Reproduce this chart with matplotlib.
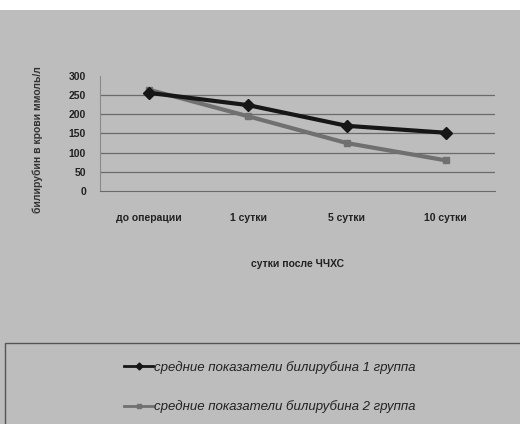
import matplotlib.pyplot as plt
from matplotlib.patches import Rectangle

# данные
categories = ['до операции', '1 сутки', '5 сутки', '10 сутки']
group1 = [256, 224, 170, 152]
group2 = [264, 195, 125, 80]
label1 = 'средние показатели билирубина 1 группа'
label2 = 'средние показатели билирубина 2 группа'

bg = '#bdbdbd'
plt.rcParams['font.family'] = ['Liberation Sans', 'DejaVu Sans']

fig = plt.figure(figsize=(5.2, 4.24), dpi=100, facecolor=bg)
ax = fig.add_axes([0.192, 0.5495, 0.76, 0.2713], facecolor=bg)

x = range(len(categories))
ax.plot(x, group1, '-D', color='#161616', lw=3, markersize=6, label=label1, zorder=4)
ax.plot(x, group2, '-s', color='#707070', lw=3, markersize=5, label=label2, zorder=3)

ax.set_xlim(-0.5, len(categories) - 0.5)
ax.set_ylim(0, 300)
ax.set_yticks(range(0, 301, 50))
ax.set_yticklabels([str(v) for v in range(0, 301, 50)], fontsize=7.5, fontweight='bold', color='#222222')
ax.set_xticks(list(x))
ax.set_xticklabels(categories, fontsize=7.5, fontweight='bold', color='#222222')
ax.tick_params(axis='x', length=0, pad=16)
ax.tick_params(axis='y', length=0, pad=10)
for v in range(50, 300, 50):
    ax.axhline(v, color='#6a6a6a', lw=0.9, zorder=1)
for s in ['top', 'right']:
    ax.spines[s].set_visible(False)
ax.spines['left'].set_color('#8a8a8a')
ax.spines['bottom'].set_color('#6a6a6a')

ax.set_xlabel('сутки после ЧЧХС', fontsize=7.5, fontweight='bold', color='#222222', labelpad=26)
fig.text(0.073, 1 - 140 / 424, 'билирубин в крови ммоль/л', rotation=90, fontsize=7.5,
         fontweight='bold', color='#333333', ha='center', va='center')

# белая полоса сверху и рамка легенды
fig.patches.append(Rectangle((0, 1 - 10 / 424), 1, 10 / 424, transform=fig.transFigure,
                             facecolor='white', edgecolor='none'))
fig.patches.append(Rectangle((5 / 520, -0.01), 1.0, (424 - 343) / 424 + 0.01, transform=fig.transFigure,
                             facecolor='none', edgecolor='#555555', lw=1))

leg = ax.legend(loc='center', bbox_to_anchor=(270 / 520, (424 - 387) / 424), bbox_transform=fig.transFigure,
                frameon=False, labelspacing=2.0, handlelength=2.2, handletextpad=0.1,
                prop={'size': 9.5, 'style': 'italic'})
for t in leg.get_texts():
    t.set_color('#222222')
for h in leg.legend_handles:
    h.set_linewidth(2)
    h.set_markersize(3.5)

fig.savefig('out.png', dpi=100, facecolor=bg)
